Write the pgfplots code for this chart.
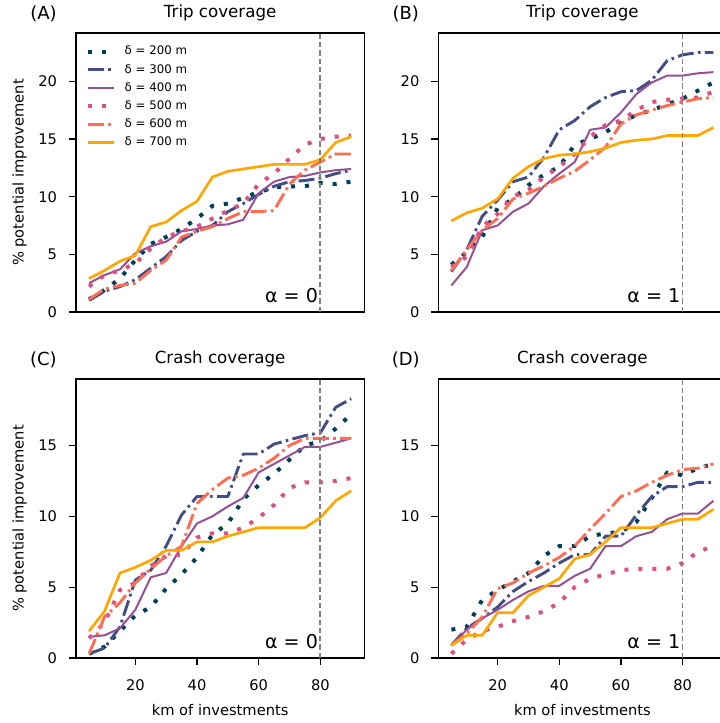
\documentclass[border=0pt]{standalone}
\usepackage{fontspec}
\setmainfont{DejaVu Sans}
\usepackage{pgfplots}
\usepackage{pgfplotstable}
\pgfplotsset{compat=1.18}

\definecolor{c200}{HTML}{003F5C}
\definecolor{c300}{HTML}{444E86}
\definecolor{c400}{HTML}{955196}
\definecolor{c500}{HTML}{DD5182}
\definecolor{c600}{HTML}{FF6E54}
\definecolor{c700}{HTML}{FFA600}

\pgfplotstableread{
x  a    b    c    d    e    f
5  1.1  1.0  2.5  2.2  1.1  2.9
10 1.9  1.8  3.2  3.2  2.0  3.6
15 2.9  2.2  3.7  3.6  2.3  4.4
20 4.5  2.8  5.1  4.2  2.5  4.9
25 5.9  3.8  5.7  5.5  3.6  7.4
30 6.5  4.8  6.1  6.5  4.5  7.8
35 7.2  6.2  7.0  7.0  6.5  8.8
40 8.1  7.0  7.2  7.4  7.0  9.6
45 9.2  7.5  7.5  8.1  7.4  11.7
50 9.4  8.7  7.6  8.8  8.1  12.2
55 9.9  9.4  8.0  9.4  8.7  12.4
60 10.4 10.2 10.3 11.1 8.7  12.6
65 10.8 10.9 11.3 12.0 8.8  12.8
70 10.9 11.3 11.7 13.3 11.1 12.8
75 10.9 11.4 11.8 14.5 12.3 12.8
80 11.2 11.6 12.1 15.0 13.0 13.2
85 11.1 12.0 12.3 15.2 13.7 14.7
90 11.3 12.3 12.4 15.3 13.7 15.2
}\tabA

\pgfplotstableread{
x  a    b    c    d    e    f
5  4.1  3.5  2.3  3.9  3.6  7.9
10 5.2  5.4  3.9  4.8  5.4  8.6
15 6.5  8.3  7.1  7.4  7.1  9.0
20 9.0  9.7  7.5  8.5  8.1  9.8
25 9.8  11.3 8.7  10.0 9.8  11.6
30 11.0 11.7 9.4  10.6 10.3 12.6
35 11.9 13.4 10.9 11.7 10.9 13.3
40 12.6 15.8 12.0 12.6 11.6 13.6
45 14.5 16.6 13.0 13.7 12.2 13.7
50 15.0 17.8 15.8 15.2 13.2 13.9
55 15.6 18.6 16.0 16.2 14.3 14.2
60 16.4 19.1 17.3 16.6 16.3 14.7
65 17.1 19.2 18.9 17.5 17.1 14.9
70 17.5 20.1 19.9 18.2 17.5 15.0
75 18.0 21.8 20.5 18.4 17.9 15.3
80 18.5 22.3 20.5 18.5 18.2 15.3
85 19.2 22.5 20.7 18.6 18.5 15.3
90 19.9 22.5 20.8 19.1 18.6 16.0
}\tabB

\pgfplotstableread{
x  a    b    c    d    e    f
5  0.3  0.3  1.5  1.4  0.3  1.9
10 0.8  0.7  1.6  2.5  2.9  3.3
15 1.9  2.2  2.1  4.8  3.9  6.0
20 3.0  5.5  3.4  5.3  5.3  6.4
25 3.6  6.2  5.7  6.5  6.3  6.9
30 4.9  7.9  6.0  7.2  7.2  7.6
35 5.9  10.1 7.9  7.3  7.9  7.6
40 7.1  11.4 9.5  8.5  10.9 8.2
45 8.7  11.4 10.0 8.8  11.9 8.2
50 9.5  11.4 10.7 8.8  12.7 8.6
55 11.2 14.4 11.3 9.2  12.9 8.9
60 12.2 14.4 13.1 9.9  13.4 9.2
65 13.0 15.1 13.7 10.8 14.1 9.2
70 14.0 15.4 14.3 12.0 15.0 9.2
75 15.0 15.7 14.9 12.4 15.5 9.2
80 15.3 15.9 14.9 12.4 15.5 9.9
85 16.2 17.7 15.2 12.5 15.5 11.1
90 17.2 18.3 15.5 12.7 15.5 11.8
}\tabC

\pgfplotstableread{
x  a    b    c    d    e    f
5  2.0  0.9  0.9  0.3  0.9  0.9
10 2.2  2.1  2.0  1.3  1.7  1.6
15 4.1  2.8  2.8  1.9  2.9  1.6
20 4.8  3.6  3.4  2.2  4.9  3.2
25 5.4  4.7  4.1  2.6  5.3  3.2
30 6.0  5.4  4.7  2.9  6.0  4.4
35 7.2  6.0  5.1  3.3  6.5  5.0
40 7.9  6.7  5.1  3.9  7.1  5.6
45 7.9  7.3  5.8  5.0  7.9  7.0
50 8.6  7.3  6.3  5.6  9.1  7.3
55 8.8  8.6  7.9  5.9  10.2 8.2
60 8.9  8.6  7.9  6.2  11.4 9.2
65 9.6  10.1 8.6  6.3  11.8 9.2
70 11.3 11.4 8.9  6.3  12.4 9.2
75 13.1 12.1 9.8  6.3  12.9 9.5
80 12.9 12.1 10.2 6.7  13.3 9.8
85 13.4 12.4 10.2 7.5  13.4 9.8
90 13.7 12.4 11.1 7.9  13.7 10.5
}\tabD

\tikzset{
  alphalbl/.style={anchor=base east, inner sep=0pt, yshift=7pt, font=\fontsize{14.3}{16}\selectfont},
  letterlbl/.style={anchor=base, inner sep=0pt, xshift=-24.4pt, yshift=10pt, font=\fontsize{13.5}{16}\selectfont},
  s200/.style={c200, line width=3pt, dash pattern=on 3pt off 7.5pt, line cap=butt, line join=round},
  s300/.style={c300, line width=2.2pt, dash pattern=on 12pt off 3.2pt on 2pt off 3.2pt, line cap=butt, line join=round},
  s400/.style={c400, line width=1.5pt, line join=round},
  s500/.style={c500, line width=3pt, dash pattern=on 3pt off 7.5pt, line cap=butt, line join=round},
  s600/.style={c600, line width=2.2pt, dash pattern=on 12pt off 3.2pt on 2pt off 3.2pt, line cap=butt, line join=round},
  s700/.style={c700, line width=2pt, line join=round},
}

\pgfplotsset{
  panel/.style={
    scale only axis, width=216.2pt, height=209.3pt,
    anchor=south west,
    xmin=0.75, xmax=94.25, ymin=0,
    clip mode=individual,
    axis line style={line width=0.9pt, black},
    every tick/.style={line width=0.9pt, black},
    major tick length=5.25pt, tick align=outside, tick pos=left,
    xtick={20,40,60,80},
    /pgf/number format/assume math mode=true,
    ticklabel style={font=\fontsize{11}{13}\selectfont},
    yticklabel style={anchor=east, inner sep=0pt, xshift=-8.75pt},
    xticklabel style={anchor=north, inner sep=0pt, yshift=-10.5pt},
    every axis title/.style={font=\fontsize{12.5}{15}\selectfont, at={(rel axis cs:0.5,1)}, anchor=base, yshift=11.7pt, inner sep=0pt},
    every axis y label/.style={at={(rel axis cs:0,0.5)}, xshift=-42.4pt, rotate=90, anchor=center, inner sep=0pt, font=\fontsize{11}{13}\selectfont},
    every axis x label/.style={at={(rel axis cs:0.5,0)}, yshift=-42.75pt, anchor=base, inner sep=0pt, font=\fontsize{11}{13}\selectfont},
  },
  vline/.style={forget plot, color=gray, line width=1.3pt, dash pattern=on 4pt off 2.2pt},
}

\newcommand{\allplots}[1]{%
  \addplot[s200] table[x=x,y=a]{#1};
  \addplot[s300] table[x=x,y=b]{#1};
  \addplot[s400] table[x=x,y=c]{#1};
  \addplot[s500] table[x=x,y=d]{#1};
  \addplot[s600] table[x=x,y=e]{#1};
  \addplot[s700] table[x=x,y=f]{#1};
}

\begin{document}
\begin{tikzpicture}
% Panel A
\begin{axis}[panel, at={(57pt,308.25pt)}, ymax=24.2, ytick={0,5,10,15,20}, xtick=\empty,
  title={Trip coverage}, ylabel={\% potential improvement},
  legend style={draw=none, fill=none, at={(rel axis cs:0,1)}, anchor=north west,
    xshift=7.5pt, yshift=-10pt, inner sep=0pt, outer sep=0pt, row sep=5.6pt, column sep=6.5pt,
    font=\fontsize{8.85}{10}\selectfont, nodes={inner sep=0pt, text height=6.5pt, text depth=1.5pt}},
  legend cell align=left,
  legend image code/.code={\draw[#1] (0pt,0pt) -- (19.5pt,0pt);},
  ]
\allplots{\tabA}
\legend{δ = 200 m, δ = 300 m, δ = 400 m, δ = 500 m, δ = 600 m, δ = 700 m}
\addplot[vline] coordinates {(80,0) (80,30)};
\node[alphalbl] at (axis cs:79.3,0) {α = 0};
\node[letterlbl] at (rel axis cs:0,1) {(A)};
\end{axis}
% Panel B
\begin{axis}[panel, at={(328.7pt,308.25pt)}, ymax=24.2, ytick={0,5,10,15,20}, xtick=\empty,
  title={Trip coverage}]
\allplots{\tabB}
\addplot[vline] coordinates {(80,0) (80,30)};
\node[alphalbl] at (axis cs:79.3,0) {α = 1};
\node[letterlbl] at (rel axis cs:0,1) {(B)};
\end{axis}
% Panel C
\begin{axis}[panel, at={(57pt,48.75pt)}, ymax=19.7, ytick={0,5,10,15},
  title={Crash coverage}, ylabel={\% potential improvement}, xlabel={km of investments}]
\allplots{\tabC}
\addplot[vline] coordinates {(80,0) (80,30)};
\node[alphalbl] at (axis cs:79.3,0) {α = 0};
\node[letterlbl] at (rel axis cs:0,1) {(C)};
\end{axis}
% Panel D
\begin{axis}[panel, at={(328.7pt,48.75pt)}, ymax=19.7, ytick={0,5,10,15},
  title={Crash coverage}, xlabel={km of investments}]
\allplots{\tabD}
\addplot[vline] coordinates {(80,0) (80,30)};
\node[alphalbl] at (axis cs:79.3,0) {α = 1};
\node[letterlbl] at (rel axis cs:0,1) {(D)};
\end{axis}
\pgfresetboundingbox
\useasboundingbox (0,0) rectangle (539.25pt,542.25pt);
\end{tikzpicture}
\end{document}
